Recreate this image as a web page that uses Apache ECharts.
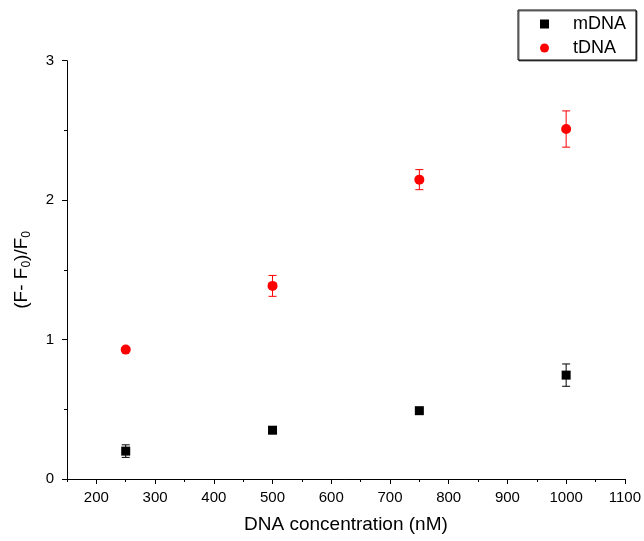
<!DOCTYPE html>
<html><head><meta charset="utf-8">
<script src="https://cdn.jsdelivr.net/npm/echarts@6/dist/echarts.min.js"></script>
<style>html,body{margin:0;padding:0;background:#fff}#c{width:644px;height:541px}</style>
</head><body><div id="c"></div>
<script>
const concentrations = [250, 500, 750, 1000];
const mDNA = [0.20, 0.35, 0.49, 0.745];
const mDNAErr = [0.045, 0.015, 0.012, 0.08];
const tDNA = [0.928, 1.385, 2.147, 2.51];
const tDNAErr = [0.012, 0.075, 0.072, 0.13];
const xMajorTicks = [200, 300, 400, 500, 600, 700, 800, 900, 1000, 1100];
const xMinorTicks = [150, 250, 350, 450, 550, 650, 750, 850, 950, 1050];
const seriesNames = ['mDNA', 'tDNA'];

const FONT = 'Liberation Sans, Arial, Helvetica, sans-serif';

function errorSeries(vals, errs, color) {
  return {
    type: 'custom', silent: true, z: 1,
    encode: { x: 0, y: [1, 2] },
    data: concentrations.map((x, i) => [x, vals[i] - errs[i], vals[i] + errs[i]]),
    renderItem: function (params, api) {
      const lo = api.coord([api.value(0), api.value(1)]);
      const hi = api.coord([api.value(0), api.value(2)]);
      const w = 4;
      const st = { stroke: color, lineWidth: 1 };
      return { type: 'group', children: [
        { type: 'line', shape: { x1: lo[0], y1: lo[1], x2: hi[0], y2: hi[1] }, style: st },
        { type: 'line', shape: { x1: lo[0] - w, y1: lo[1], x2: lo[0] + w, y2: lo[1] }, style: st },
        { type: 'line', shape: { x1: hi[0] - w, y1: hi[1], x2: hi[0] + w, y2: hi[1] }, style: st }
      ] };
    }
  };
}

const chart = echarts.init(document.getElementById('c'));
chart.setOption({
  animation: false,
  backgroundColor: '#fff',
  textStyle: { fontFamily: FONT },
  grid: { left: 62, right: 17, top: 60.7, bottom: 62, containLabel: false },
  legend: {
    data: seriesNames,
    orient: 'vertical',
    left: 518, top: 10,
    backgroundColor: '#fff',
    borderColor: '#000', borderWidth: 1,
    shadowColor: 'rgba(0,0,0,0.6)', shadowOffsetX: 1, shadowOffsetY: 1, shadowBlur: 0,
    padding: [5, 10, 3, 22],
    itemWidth: 9, itemHeight: 9, itemGap: 6,
    formatter: function (name) { return '{t|' + name + '}'; },
    textStyle: { fontFamily: FONT, fontSize: 18, color: '#000',
      rich: { t: { fontFamily: FONT, fontSize: 18, color: '#000', padding: [0, 0, 0, 19] } } }
  },
  xAxis: [{
    type: 'value', position: 'bottom', min: 150, max: 1100,
    name: 'DNA concentration (nM)', nameLocation: 'middle', nameGap: 36,
    nameTextStyle: { fontFamily: FONT, fontSize: 19, color: '#000' },
    axisLine: { show: true, onZero: false, lineStyle: { color: '#000', width: 1 } },
    axisTick: { show: true, inside: false, length: 5, customValues: xMajorTicks, lineStyle: { color: '#000' } },
    axisLabel: { customValues: xMajorTicks, formatter: function (v) { return String(v); },
      fontFamily: FONT, fontSize: 15, color: '#000', margin: 11 },
    splitLine: { show: false }
  }, {
    type: 'value', position: 'bottom', min: 150, max: 1100,
    axisLine: { show: false },
    axisTick: { show: true, inside: false, length: 3, customValues: xMinorTicks, lineStyle: { color: '#000' } },
    axisLabel: { show: false },
    splitLine: { show: false }
  }],
  yAxis: {
    type: 'value', min: 0, max: 3, interval: 1,
    name: '{a|(F- F}{s|0}{a|)/F}{s|0}', nameLocation: 'middle', nameGap: 34, nameRotate: 90,
    nameTextStyle: { fontFamily: FONT, fontSize: 19, color: '#000',
      rich: {
        a: { fontFamily: FONT, fontSize: 19, color: '#000', lineHeight: 22, verticalAlign: 'middle' },
        s: { fontFamily: FONT, fontSize: 12, color: '#000', lineHeight: 22, verticalAlign: 'bottom', padding: [13, 0, 0, 0] }
      } },
    axisLine: { show: true, onZero: false, lineStyle: { color: '#000', width: 1 } },
    axisTick: { show: true, inside: false, length: 5, lineStyle: { color: '#000' } },
    minorTick: { show: true, splitNumber: 2, length: 3, lineStyle: { color: '#000' } },
    axisLabel: { fontFamily: FONT, fontSize: 15, color: '#000', margin: 13 },
    splitLine: { show: false }
  },
  series: [
    errorSeries(mDNA, mDNAErr, '#000'),
    errorSeries(tDNA, tDNAErr, '#ff0000'),
    { name: 'mDNA', type: 'scatter', symbol: 'rect', symbolSize: 9, z: 3,
      itemStyle: { color: '#000', opacity: 1 }, data: concentrations.map((x, i) => [x, mDNA[i]]) },
    { name: 'tDNA', type: 'scatter', symbol: 'circle', symbolSize: 10, z: 3,
      itemStyle: { color: '#ff0000', opacity: 1 }, data: concentrations.map((x, i) => [x, tDNA[i]]) }
  ]
});
</script>
</body></html>
